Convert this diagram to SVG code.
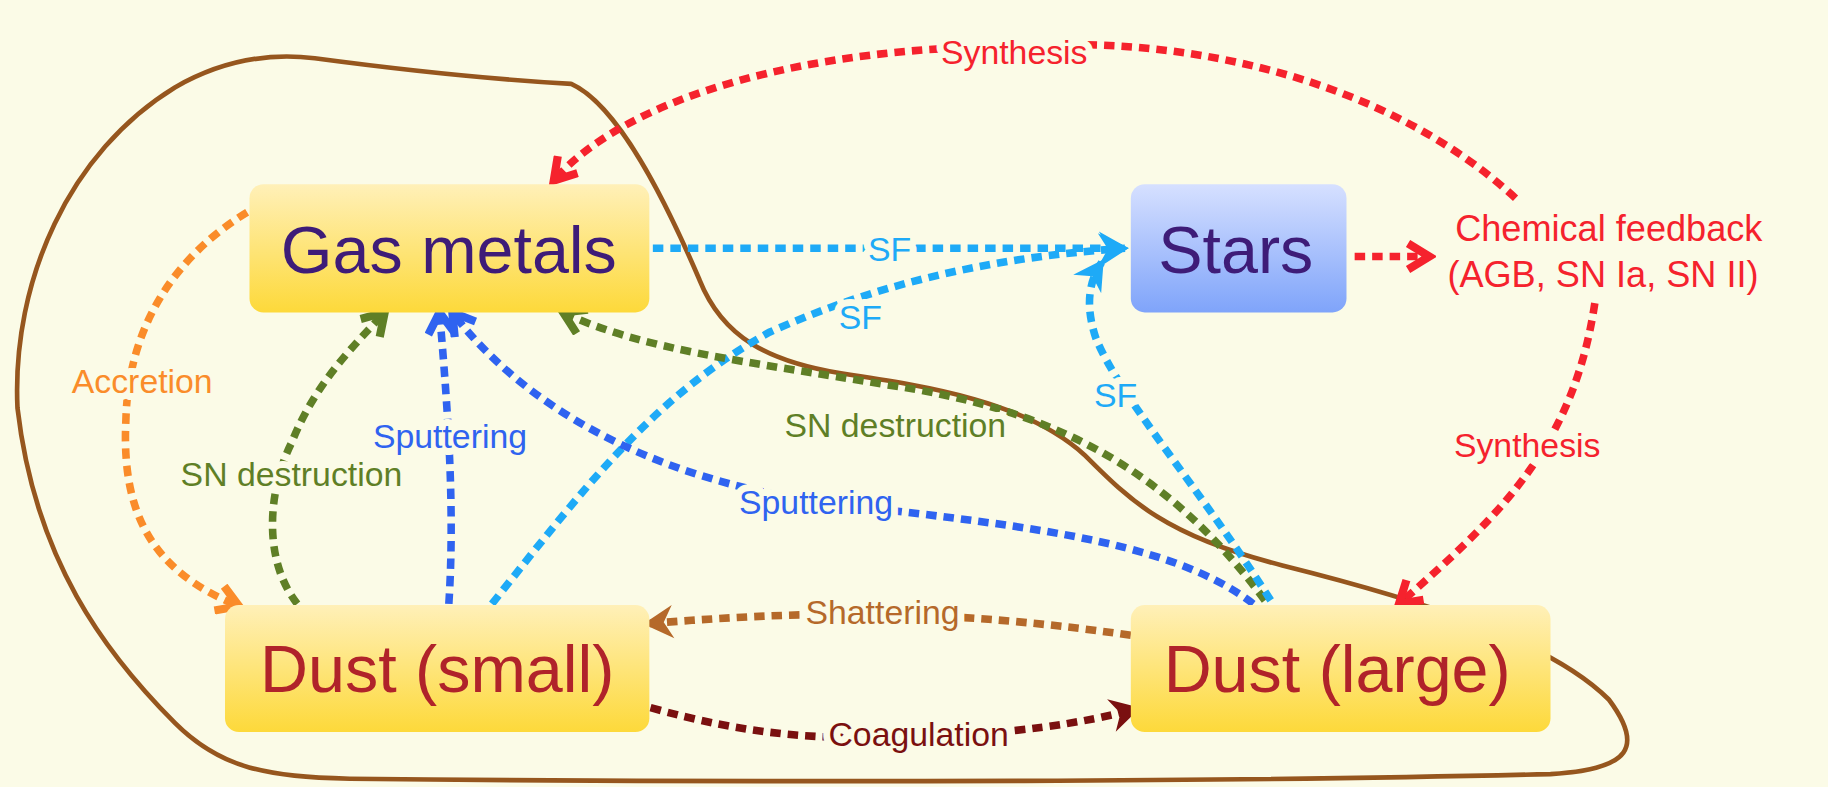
<svg xmlns="http://www.w3.org/2000/svg" width="1828" height="787" viewBox="0 0 1828 787">
<defs>
<linearGradient id="gy" x1="0" y1="0" x2="0" y2="1"><stop offset="0" stop-color="#FFF0B8"/><stop offset="1" stop-color="#FDD93A"/></linearGradient>
<linearGradient id="gb" x1="0" y1="0" x2="0" y2="1"><stop offset="0" stop-color="#D6E0FF"/><stop offset="1" stop-color="#7FA4FA"/></linearGradient>
<marker id="mr" viewBox="0 0 20 20" refX="16" refY="10" markerWidth="28" markerHeight="28" markerUnits="userSpaceOnUse" orient="auto"><path d="M3,2 L16,10 L3,18" fill="none" stroke="#F5222D" stroke-width="5"/></marker>
<marker id="ms" viewBox="0 0 20 20" refX="16" refY="10" markerWidth="32" markerHeight="32" markerUnits="userSpaceOnUse" orient="auto"><path d="M2,1 L18,10 L2,19 L7,10z" fill="#1EAAF7"/></marker>
<marker id="mo" viewBox="0 0 20 20" refX="16" refY="10" markerWidth="28" markerHeight="28" markerUnits="userSpaceOnUse" orient="auto"><path d="M3,2 L16,10 L3,18" fill="none" stroke="#FA8C2A" stroke-width="5"/></marker>
<marker id="mg" viewBox="0 0 20 20" refX="16" refY="10" markerWidth="28" markerHeight="28" markerUnits="userSpaceOnUse" orient="auto"><path d="M3,2 L16,10 L3,18" fill="none" stroke="#5F7F26" stroke-width="5"/></marker>
<marker id="mb" viewBox="0 0 20 20" refX="16" refY="10" markerWidth="28" markerHeight="28" markerUnits="userSpaceOnUse" orient="auto"><path d="M3,2 L16,10 L3,18" fill="none" stroke="#2F63F0" stroke-width="5"/></marker>
<marker id="mh" viewBox="0 0 20 20" refX="16" refY="10" markerWidth="32" markerHeight="32" markerUnits="userSpaceOnUse" orient="auto"><path d="M2,1 L18,10 L2,19 L7,10z" fill="#B5692A"/></marker>
<marker id="mc" viewBox="0 0 20 20" refX="16" refY="10" markerWidth="32" markerHeight="32" markerUnits="userSpaceOnUse" orient="auto"><path d="M2,1 L18,10 L2,19 L7,10z" fill="#7A1010"/></marker>
</defs>
<style>
text{font-family:"Liberation Sans",Arial,sans-serif}
.c{fill:none;stroke-width:6.5;stroke-dasharray:9 6}
.lb{font-size:29px;text-anchor:middle;paint-order:stroke;stroke:#FBFBE7;stroke-width:12px;stroke-linejoin:round}
.nt{font-size:57px;text-anchor:middle}
</style>
<rect width="1828" height="787" fill="#FBFBE7"/>
<g transform="scale(1.1658)">
<path d="M270,50 C330,58 420,68 490,72 C530,90 570,170 600,240 C620,290 660,310 720,320 C800,332 880,345 930,390 C970,430 1000,460 1100,485 C1220,515 1330,550 1380,600 C1410,640 1400,660 1330,664 C1100,670 700,672 300,668 C230,666 190,660 150,620 C90,560 30,480 15,350 C10,240 60,130 150,75 C190,52 230,45 270,50z" fill="none" stroke="#96561E" stroke-width="4"/>
<g id="connectors">
<path class="c" stroke="#F5222D" d="M1300,170 C1180,60 1000,30 870,40 C700,40 540,80 475,155" marker-end="url(#mr)"/>
<path class="c" stroke="#1EAAF7" d="M560,213 L965,213" marker-end="url(#ms)"/>
<path class="c" stroke="#F5222D" d="M1162,220 L1226,220" marker-end="url(#mr)"/>
<path class="c" stroke="#F5222D" d="M1368,260 C1350,380 1290,440 1200,518" marker-end="url(#mr)"/>
<path class="c" stroke="#FA8C2A" d="M212,182 C150,220 110,280 108,360 C104,440 130,490 205,520" marker-end="url(#mo)"/>
<path class="c" stroke="#5F7F26" d="M255,518 C225,480 230,420 250,380 C270,330 300,300 330,268" marker-end="url(#mg)"/>
<path class="c" stroke="#2F63F0" d="M385,518 C390,440 385,360 377,268" marker-end="url(#mb)"/>
<path class="c" stroke="#1EAAF7" d="M422,518 C500,420 560,340 660,285 C760,240 860,220 965,213" marker-end="url(#ms)"/>
<path class="c" stroke="#5F7F26" d="M1085,515 C1000,400 900,350 760,330 C640,310 550,300 483,268" marker-end="url(#mg)"/>
<path class="c" stroke="#2F63F0" d="M1075,518 C1000,460 860,450 700,430 C560,410 450,350 388,268" marker-end="url(#mb)"/>
<path class="c" stroke="#1EAAF7" d="M1090,515 C1030,420 960,340 940,290 C930,260 935,240 945,225" marker-end="url(#ms)"/>
<path class="c" stroke="#B5692A" d="M970,545 C800,520 680,525 555,535" marker-end="url(#mh)"/>
<path class="c" stroke="#7A1010" d="M558,607 C640,630 700,635 780,632 C870,630 930,620 975,608" marker-end="url(#mc)"/>
</g>
<g id="labels">
<text class="lb" x="870" y="55" fill="#F5222D">Synthesis</text>
<text class="lb" x="763" y="224" fill="#1EAAF7">SF</text>
<text class="lb" x="1310" y="392" fill="#F5222D">Synthesis</text>
<text class="lb" x="122" y="337" fill="#FA8C2A">Accretion</text>
<text class="lb" x="250" y="417" fill="#5F7F26">SN destruction</text>
<text class="lb" x="386" y="384" fill="#2F63F0">Sputtering</text>
<text class="lb" x="738" y="282" fill="#1EAAF7">SF</text>
<text class="lb" x="768" y="375" fill="#5F7F26">SN destruction</text>
<text class="lb" x="700" y="441" fill="#2F63F0">Sputtering</text>
<text class="lb" x="957" y="349" fill="#1EAAF7">SF</text>
<text class="lb" x="757" y="535" fill="#B5692A">Shattering</text>
<text class="lb" x="788" y="640" fill="#7A1010">Coagulation</text>
</g>
<g id="gas"><rect x="214" y="158" width="343" height="110" rx="12" fill="url(#gy)"/><text class="nt" x="385" y="234" fill="#3E1C78">Gas metals</text></g>
<g id="stars"><rect x="970" y="158" width="185" height="110" rx="12" fill="url(#gb)"/><text class="nt" x="1060" y="234" fill="#3E1C78">Stars</text></g>
<g id="feedback"><text x="1380" y="207" font-size="31" text-anchor="middle" fill="#F5222D">Chemical feedback</text><text x="1375" y="246" font-size="31" text-anchor="middle" fill="#F5222D">(AGB, SN Ia, SN II)</text></g>
<g id="dustsmall"><rect x="193" y="519" width="364" height="109" rx="12" fill="url(#gy)"/><text class="nt" x="375" y="594" fill="#B0232A">Dust (small)</text></g>
<g id="dustlarge"><rect x="970" y="519" width="360" height="109" rx="12" fill="url(#gy)"/><text class="nt" x="1147" y="594" fill="#B0232A">Dust (large)</text></g>
</g>
</svg>
